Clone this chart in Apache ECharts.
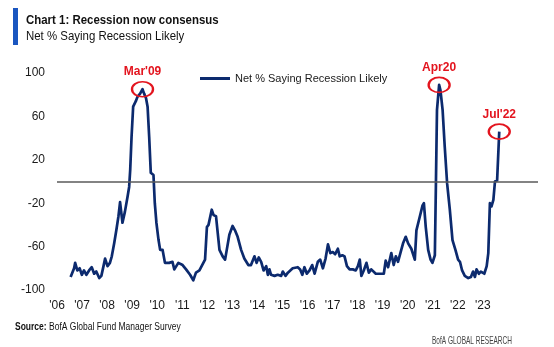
<!DOCTYPE html>
<html>
<head>
<meta charset="utf-8">
<script src="https://cdn.jsdelivr.net/npm/echarts@6/dist/echarts.min.js"></script>
<style>
  html, body { margin: 0; padding: 0; background: #ffffff; }
  #chart { width: 554px; height: 347px; }
</style>
</head>
<body>
<div id="chart"></div>
<script>
// ---- Data ----
const seriesName = 'Net % Saying Recession Likely';
// survey date as fractional year
const surveyDates = [
  2006.51, 2006.64, 2006.68, 2006.76, 2006.85, 2006.93, 2007.01, 2007.10, 2007.20, 2007.30,
  2007.39, 2007.47, 2007.58, 2007.66, 2007.74, 2007.80, 2007.89, 2007.98, 2008.05, 2008.14,
  2008.22, 2008.30, 2008.36, 2008.45, 2008.54, 2008.64, 2008.70, 2008.74, 2008.79, 2008.85,
  2008.95, 2009.01, 2009.11, 2009.20, 2009.26, 2009.33, 2009.39, 2009.45, 2009.51, 2009.61,
  2009.66, 2009.72, 2009.80, 2009.86, 2009.95, 2010.04, 2010.20, 2010.32, 2010.39, 2010.54,
  2010.70, 2010.83, 2010.98, 2011.10, 2011.20, 2011.33, 2011.54, 2011.61, 2011.67, 2011.79,
  2011.86, 2011.95, 2012.08, 2012.20, 2012.29, 2012.45, 2012.57, 2012.66, 2012.76, 2012.89,
  2013.01, 2013.16, 2013.26, 2013.39, 2013.47, 2013.55, 2013.64, 2013.73, 2013.83, 2013.89,
  2013.95, 2014.01, 2014.14, 2014.26, 2014.39, 2014.45, 2014.55, 2014.64, 2014.70, 2014.82,
  2015.01, 2015.10, 2015.18, 2015.26, 2015.35, 2015.45, 2015.55, 2015.64, 2015.76, 2015.85,
  2015.95, 2016.05, 2016.14, 2016.23, 2016.32, 2016.41, 2016.51, 2016.58, 2016.68, 2016.76,
  2016.85, 2016.95, 2017.07, 2017.18, 2017.26, 2017.33, 2017.39, 2017.48, 2017.58, 2017.67,
  2017.76, 2017.82, 2017.93, 2018.01, 2018.14, 2018.23, 2018.30, 2018.39, 2018.51, 2018.60,
  2018.68, 2018.76, 2018.86, 2018.95, 2019.05, 2019.14, 2019.26, 2019.39, 2019.45, 2019.58,
  2019.68, 2019.73, 2019.80, 2019.89, 2019.98, 2020.05, 2020.14, 2020.18, 2020.22, 2020.30,
  2020.35, 2020.43, 2020.51, 2020.60, 2020.70, 2020.80, 2020.91, 2021.01, 2021.08, 2021.16,
  2021.26, 2021.39, 2021.49, 2021.57, 2021.64, 2021.70, 2021.79, 2021.86, 2021.99, 2022.08,
  2022.14, 2022.20, 2022.26, 2022.33, 2022.39, 2022.47, 2022.55
];
const netPct = [
  -88, -80, -75, -82, -80, -86, -82, -86, -82, -79,
  -85, -83, -89, -87, -78, -71, -78, -75, -69, -57,
  -45, -32, -19, -38, -28, -14, -5, 11, 41, 69,
  74, 78, 81, 85, 81, 77, 69, 41, 8, 6,
  -20, -38, -54, -63, -63, -75, -75, -74, -81, -75,
  -77, -81, -86, -91, -84, -82, -72, -42, -40, -26,
  -31, -32, -63, -69, -72, -49, -41, -45, -51, -63,
  -71, -77, -77, -69, -75, -70, -74, -82, -78, -86,
  -81, -86, -87, -86, -87, -83, -87, -84, -83, -80,
  -79, -81, -86, -79, -85, -82, -77, -85, -74, -72,
  -80, -71, -58, -66, -65, -67, -62, -69, -68, -69,
  -78, -81, -81, -82, -78, -72, -87, -82, -75, -84,
  -81, -82, -85, -85, -85, -85, -73, -79, -66, -77,
  -69, -74, -65, -57, -51, -57, -62, -72, -45, -32,
  -22, -20, -42, -63, -72, -75, -68, -2, 66, 89,
  84, 66, 32, -2, -26, -54, -63, -72, -74, -82,
  -87, -89, -88, -83, -88, -81, -85, -83, -85, -78,
  -66, -20, -23, -17, 0, 1, 46
];
const xTickYears = [2006, 2007, 2008, 2009, 2010, 2011, 2012, 2013, 2014, 2015,
                    2016, 2017, 2018, 2019, 2020, 2021, 2022, 2023];
const xTickLabels = ["'06", "'07", "'08", "'09", "'10", "'11", "'12", "'13", "'14", "'15",
                     "'16", "'17", "'18", "'19", "'20", "'21", "'22", "'23"];
const yTickValues = [-100, -60, -20, 20, 60, 100];
const peakLabels = ["Mar'09", "Apr20", "Jul'22"];
const peakDates = [2009.20, 2020.30, 2022.55];
const peakValues = [85, 89, 46];

// ---- Chart ----
const navy = '#0c2a6e';
const red = '#e3141e';
const fam = '"Liberation Sans", Arial, sans-serif';

const chart = echarts.init(document.getElementById('chart'), null, { renderer: 'canvas' });

const option = {
  animation: false,
  backgroundColor: '#ffffff',
  grid: { left: 57, right: 16, top: 73, bottom: 57, containLabel: false },
  legend: {
    data: [seriesName],
    left: 195, top: 68,
    icon: 'rect', itemWidth: 30, itemHeight: 3, itemGap: 4,
    textStyle: { fontFamily: fam, fontSize: 11, color: '#1a1a1a' }
  },
  xAxis: [
    { // visible axis carrying the year labels
      type: 'value', min: 2006, max: 2025.2, interval: 1,
      axisLine: { show: false }, axisTick: { show: false }, splitLine: { show: false },
      axisLabel: {
        margin: 10, fontFamily: fam, fontSize: 12, color: '#1a1a1a',
        showMaxLabel: false,
        formatter: function (v) {
          const i = xTickYears.indexOf(v);
          return i >= 0 ? xTickLabels[i] : '';
        }
      }
    },
    { // data axis (survey dates)
      type: 'value', min: 2006, max: 2024, show: false
    }
  ],
  yAxis: [
    { // visible labels
      type: 'value', min: 0, max: 200, interval: 40,
      axisLine: { show: false }, axisTick: { show: false }, splitLine: { show: false },
      axisLabel: {
        margin: 12, fontFamily: fam, fontSize: 12, color: '#1a1a1a',
        formatter: function (v) {
          const i = Math.round(v / 40);
          return String(yTickValues[i]);
        }
      }
    },
    { type: 'value', min: -100, max: 100, show: false }
  ],
  series: [{
    name: seriesName,
    type: 'line',
    xAxisIndex: 1, yAxisIndex: 1,
    data: surveyDates.map((d, i) => [d, netPct[i]]),
    showSymbol: false, symbol: 'none',
    color: navy,
    lineStyle: { color: navy, width: 2.7, join: 'round' },
    markLine: {
      silent: true, symbol: 'none',
      label: { show: false },
      lineStyle: { color: '#5a5a5a', width: 1.5, type: 'solid' },
      data: [{ yAxis: 0 }]
    },
    markPoint: {
      silent: true,
      symbol: 'circle',
      symbolSize: [21, 15],
      itemStyle: { color: 'rgba(0,0,0,0)', borderColor: red, borderWidth: 2 },
      label: {
        show: true, position: 'top', distance: 3,
        color: red, fontFamily: fam, fontSize: 12, fontWeight: 'bold',
        formatter: function (p) { return p.name; }
      },
      data: peakLabels.map((l, i) => ({ name: l, coord: [peakDates[i], peakValues[i]] }))
    }
  }],
  graphic: [
    { type: 'rect', left: 13, top: 8, shape: { width: 5, height: 37 }, style: { fill: '#1a56c0' } },
    { type: 'text', x: 26, y: 20, scaleX: 0.88,
      style: { text: 'Chart 1: Recession now consensus', font: 'bold 13px ' + fam, fill: '#111',
               textVerticalAlign: 'middle' } },
    { type: 'text', x: 26, y: 36, scaleX: 0.88,
      style: { text: 'Net % Saying Recession Likely', font: '13px ' + fam, fill: '#111',
               textVerticalAlign: 'middle' } },
    { type: 'text', x: 15, y: 327, scaleX: 0.85,
      style: {
        text: '{b|Source:} BofA Global Fund Manager Survey',
        font: '10px ' + fam, fill: '#111', textVerticalAlign: 'middle',
        rich: { b: { fontWeight: 'bold', fontSize: 10, fontFamily: fam, fill: '#111' } }
      } },
    { type: 'text', x: 432, y: 341, scaleX: 0.62,
      style: { text: 'BofA GLOBAL RESEARCH', font: '10.5px ' + fam, fill: '#444',
               textVerticalAlign: 'middle' } }
  ]
};
chart.setOption(option);
</script>
</body>
</html>
